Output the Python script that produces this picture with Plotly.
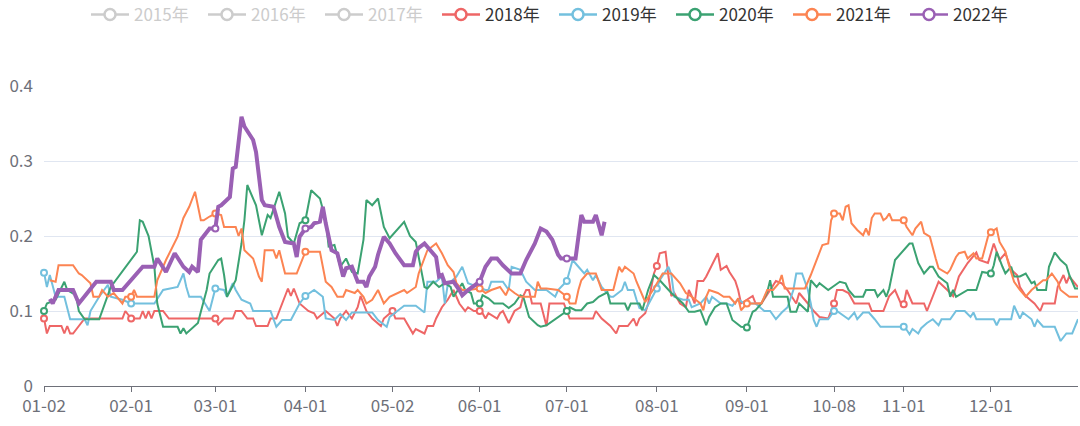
import datetime
import plotly.graph_objects as go

# ---- categories (MM-DD, union of trading days) ----
_d = datetime.date(2020, 1, 2)
categories = []
while _d <= datetime.date(2020, 12, 31):
    s = _d.strftime("%m-%d")
    if s != "05-01" and not ("10-01" <= s <= "10-07"):
        categories.append(s)
    _d += datetime.timedelta(days=1)

tick_labels = ["01-02", "02-01", "03-01", "04-01", "05-02", "06-01",
               "07-01", "08-01", "09-01", "10-08", "11-01", "12-01"]

years = ["2015年", "2016年", "2017年", "2018年", "2019年", "2020年", "2021年", "2022年"]

series_2018 = [
    ("01-02", 0.09), ("01-03", 0.07), ("01-04", 0.08), ("01-08", 0.08), ("01-09", 0.07), ("01-10", 0.08),
    ("01-11", 0.07), ("01-12", 0.07), ("01-14", 0.08), ("01-15", 0.085), ("01-16", 0.09), ("01-29", 0.09),
    ("01-30", 0.1), ("02-01", 0.09), ("02-04", 0.09), ("02-05", 0.1), ("02-06", 0.09), ("02-07", 0.1),
    ("02-08", 0.09), ("02-09", 0.1), ("02-12", 0.1), ("02-14", 0.09), ("02-28", 0.09), ("03-01", 0.09),
    ("03-02", 0.082), ("03-04", 0.09), ("03-07", 0.09), ("03-08", 0.1), ("03-10", 0.1), ("03-12", 0.09),
    ("03-14", 0.09), ("03-15", 0.08), ("03-19", 0.08), ("03-20", 0.09), ("03-22", 0.09), ("03-26", 0.13),
    ("03-27", 0.12), ("03-28", 0.13), ("03-30", 0.11), ("04-02", 0.1), ("04-04", 0.097), ("04-05", 0.09),
    ("04-08", 0.1), ("04-11", 0.09), ("04-12", 0.08), ("04-13", 0.09), ("04-15", 0.1), ("04-17", 0.09),
    ("04-19", 0.105), ("04-20", 0.12), ("04-22", 0.1), ("04-24", 0.09), ("04-27", 0.08), ("04-28", 0.09),
    ("05-02", 0.1), ("05-03", 0.09), ("05-06", 0.09), ("05-09", 0.07), ("05-10", 0.076), ("05-13", 0.07),
    ("05-14", 0.08), ("05-16", 0.08), ("05-17", 0.09), ("05-19", 0.105), ("05-21", 0.115), ("05-23", 0.128),
    ("05-25", 0.11), ("05-27", 0.1), ("05-28", 0.105), ("05-30", 0.1), ("06-01", 0.1), ("06-02", 0.097),
    ("06-03", 0.09), ("06-04", 0.097), ("06-07", 0.09), ("06-08", 0.097), ("06-09", 0.1), ("06-10", 0.092),
    ("06-11", 0.084), ("06-12", 0.092), ("06-13", 0.1), ("06-15", 0.105), ("06-16", 0.12), ("06-17", 0.128),
    ("06-18", 0.128), ("06-19", 0.11), ("06-22", 0.11), ("06-24", 0.08), ("06-25", 0.11), ("06-30", 0.11),
    ("07-02", 0.09), ("07-10", 0.09), ("07-11", 0.1), ("07-13", 0.09), ("07-16", 0.08), ("07-18", 0.07),
    ("07-19", 0.08), ("07-22", 0.08), ("07-24", 0.09), ("07-25", 0.08), ("07-26", 0.09), ("07-28", 0.097),
    ("07-29", 0.11), ("07-31", 0.15), ("08-01", 0.16), ("08-02", 0.177), ("08-04", 0.179), ("08-05", 0.146),
    ("08-06", 0.12), ("08-07", 0.124), ("08-09", 0.11), ("08-11", 0.105), ("08-12", 0.128), ("08-13", 0.12),
    ("08-14", 0.11), ("08-15", 0.14), ("08-17", 0.14), ("08-18", 0.146), ("08-22", 0.177), ("08-23", 0.155),
    ("08-25", 0.16), ("08-26", 0.152), ("08-28", 0.14), ("08-29", 0.128), ("08-30", 0.11), ("09-03", 0.12),
    ("09-04", 0.11), ("09-06", 0.11), ("09-09", 0.128), ("09-11", 0.14), ("09-13", 0.137), ("09-15", 0.128),
    ("09-18", 0.11), ("09-19", 0.124), ("09-22", 0.11), ("09-24", 0.1), ("09-26", 0.092), ("09-29", 0.09),
    ("09-30", 0.1), ("10-08", 0.11), ("10-09", 0.128), ("10-11", 0.128), ("10-13", 0.124), ("10-15", 0.11),
    ("10-20", 0.11), ("10-21", 0.1), ("10-25", 0.1), ("10-27", 0.12), ("10-29", 0.128), ("10-31", 0.11),
    ("11-01", 0.109), ("11-02", 0.128), ("11-04", 0.11), ("11-08", 0.11), ("11-09", 0.1), ("11-11", 0.12),
    ("11-13", 0.139), ("11-16", 0.128), ("11-18", 0.12), ("11-20", 0.146), ("11-23", 0.164), ("11-26", 0.178),
    ("11-27", 0.168), ("11-30", 0.164), ("12-02", 0.19), ("12-04", 0.168), ("12-06", 0.177), ("12-08", 0.155),
    ("12-10", 0.148), ("12-11", 0.132), ("12-13", 0.12), ("12-16", 0.11), ("12-18", 0.1), ("12-19", 0.11),
    ("12-23", 0.11), ("12-24", 0.132), ("12-26", 0.148), ("12-27", 0.137), ("12-28", 0.146), ("12-31", 0.132),
]

series_2019 = [
    ("01-02", 0.151), ("01-03", 0.132), ("01-04", 0.148), ("01-06", 0.119), ("01-09", 0.119), ("01-11", 0.089),
    ("01-16", 0.089), ("01-17", 0.081), ("01-18", 0.1), ("01-21", 0.119), ("01-24", 0.135), ("01-25", 0.119),
    ("01-29", 0.115), ("02-01", 0.11), ("02-09", 0.11), ("02-12", 0.128), ("02-17", 0.132), ("02-19", 0.15),
    ("02-20", 0.132), ("02-21", 0.119), ("02-25", 0.119), ("02-28", 0.1), ("03-01", 0.13), ("03-04", 0.128),
    ("03-05", 0.119), ("03-07", 0.137), ("03-08", 0.128), ("03-10", 0.115), ("03-13", 0.11), ("03-14", 0.1),
    ("03-20", 0.1), ("03-22", 0.079), ("03-24", 0.088), ("03-27", 0.088), ("03-30", 0.11), ("04-01", 0.12),
    ("04-04", 0.128), ("04-07", 0.119), ("04-08", 0.09), ("04-11", 0.088), ("04-13", 0.096), ("04-15", 0.088),
    ("04-17", 0.098), ("04-24", 0.098), ("04-26", 0.088), ("04-29", 0.079), ("04-30", 0.092), ("05-03", 0.098),
    ("05-06", 0.107), ("05-10", 0.107), ("05-13", 0.098), ("05-14", 0.139), ("05-17", 0.139), ("05-19", 0.146),
    ("05-20", 0.11), ("05-21", 0.135), ("05-24", 0.146), ("05-26", 0.159), ("05-28", 0.137), ("06-03", 0.128),
    ("06-04", 0.128), ("06-05", 0.139), ("06-09", 0.139), ("06-11", 0.128), ("06-12", 0.159), ("06-15", 0.155),
    ("06-17", 0.139), ("06-20", 0.128), ("06-24", 0.128), ("06-27", 0.119), ("06-28", 0.128), ("07-01", 0.14),
    ("07-02", 0.155), ("07-03", 0.168), ("07-05", 0.159), ("07-07", 0.15), ("07-08", 0.155), ("07-10", 0.141),
    ("07-11", 0.148), ("07-13", 0.132), ("07-16", 0.119), ("07-17", 0.119), ("07-20", 0.128), ("07-21", 0.139),
    ("07-22", 0.128), ("07-24", 0.128), ("07-25", 0.115), ("07-26", 0.104), ("07-28", 0.101), ("08-01", 0.13),
    ("08-02", 0.141), ("08-05", 0.159), ("08-06", 0.148), ("08-07", 0.119), ("08-10", 0.115), ("08-12", 0.115),
    ("08-13", 0.105), ("08-16", 0.11), ("08-18", 0.119), ("08-19", 0.11), ("08-20", 0.119), ("08-23", 0.11),
    ("08-25", 0.11), ("08-27", 0.107), ("08-29", 0.116), ("08-31", 0.11), ("09-04", 0.11), ("09-07", 0.1),
    ("09-09", 0.1), ("09-11", 0.089), ("09-13", 0.098), ("09-15", 0.105), ("09-17", 0.128), ("09-18", 0.15),
    ("09-20", 0.15), ("09-22", 0.128), ("09-23", 0.11), ("09-24", 0.088), ("09-25", 0.079), ("09-26", 0.089),
    ("09-29", 0.089), ("10-08", 0.1), ("10-09", 0.1), ("10-11", 0.095), ("10-13", 0.089), ("10-15", 0.098),
    ("10-16", 0.089), ("10-18", 0.098), ("10-20", 0.098), ("10-22", 0.089), ("10-24", 0.079), ("10-31", 0.079),
    ("11-01", 0.079), ("11-02", 0.075), ("11-03", 0.069), ("11-04", 0.076), ("11-06", 0.07), ("11-07", 0.077),
    ("11-09", 0.084), ("11-11", 0.089), ("11-13", 0.081), ("11-14", 0.089), ("11-17", 0.089), ("11-19", 0.1),
    ("11-22", 0.1), ("11-24", 0.092), ("11-25", 0.098), ("11-26", 0.089), ("12-02", 0.089), ("12-03", 0.081),
    ("12-04", 0.089), ("12-08", 0.089), ("12-09", 0.107), ("12-11", 0.09), ("12-12", 0.098), ("12-15", 0.089),
    ("12-16", 0.079), ("12-17", 0.088), ("12-19", 0.079), ("12-23", 0.079), ("12-25", 0.06), ("12-27", 0.07),
    ("12-29", 0.07), ("12-31", 0.089),
]

series_2020 = [
    ("01-02", 0.1), ("01-03", 0.11), ("01-06", 0.115), ("01-09", 0.139), ("01-10", 0.128), ("01-13", 0.121),
    ("01-14", 0.1), ("01-16", 0.089), ("01-21", 0.089), ("01-25", 0.132), ("02-03", 0.179), ("02-04", 0.221),
    ("02-05", 0.219), ("02-07", 0.2), ("02-09", 0.159), ("02-10", 0.11), ("02-12", 0.079), ("02-17", 0.079),
    ("02-18", 0.07), ("02-19", 0.077), ("02-20", 0.07), ("02-22", 0.077), ("02-24", 0.084), ("02-25", 0.099),
    ("02-27", 0.128), ("02-28", 0.15), ("03-02", 0.168), ("03-03", 0.17), ("03-04", 0.148), ("03-05", 0.119),
    ("03-08", 0.141), ("03-10", 0.19), ("03-11", 0.221), ("03-12", 0.268), ("03-15", 0.241), ("03-17", 0.201),
    ("03-19", 0.228), ("03-20", 0.224), ("03-23", 0.259), ("03-25", 0.23), ("03-26", 0.199), ("03-28", 0.19),
    ("03-30", 0.217), ("04-01", 0.221), ("04-03", 0.261), ("04-06", 0.25), ("04-08", 0.221), ("04-09", 0.186),
    ("04-11", 0.188), ("04-13", 0.159), ("04-15", 0.17), ("04-17", 0.152), ("04-19", 0.15), ("04-21", 0.195),
    ("04-22", 0.248), ("04-24", 0.241), ("04-26", 0.25), ("04-28", 0.212), ("04-30", 0.197), ("05-06", 0.219),
    ("05-08", 0.2), ("05-10", 0.192), ("05-11", 0.172), ("05-13", 0.132), ("05-14", 0.13), ("05-16", 0.139),
    ("05-18", 0.132), ("05-20", 0.137), ("05-22", 0.132), ("05-23", 0.119), ("05-26", 0.137), ("05-27", 0.128),
    ("05-29", 0.124), ("05-30", 0.11), ("06-01", 0.11), ("06-02", 0.121), ("06-04", 0.117), ("06-06", 0.11),
    ("06-09", 0.11), ("06-11", 0.104), ("06-13", 0.11), ("06-15", 0.121), ("06-16", 0.119), ("06-18", 0.092),
    ("06-21", 0.081), ("06-22", 0.079), ("06-24", 0.081), ("07-01", 0.1), ("07-02", 0.105), ("07-04", 0.101),
    ("07-06", 0.101), ("07-08", 0.11), ("07-10", 0.112), ("07-12", 0.119), ("07-15", 0.125), ("07-16", 0.11),
    ("07-19", 0.11), ("07-21", 0.11), ("07-22", 0.101), ("07-23", 0.11), ("07-26", 0.11), ("07-27", 0.101),
    ("07-29", 0.128), ("07-31", 0.148), ("08-02", 0.141), ("08-06", 0.124), ("08-10", 0.11), ("08-12", 0.099),
    ("08-14", 0.099), ("08-16", 0.101), ("08-18", 0.081), ("08-19", 0.092), ("08-21", 0.105), ("08-23", 0.11),
    ("08-25", 0.11), ("08-27", 0.088), ("08-30", 0.079), ("09-01", 0.078), ("09-03", 0.099), ("09-04", 0.101),
    ("09-06", 0.11), ("09-08", 0.125), ("09-09", 0.141), ("09-10", 0.119), ("09-15", 0.119), ("09-16", 0.099),
    ("09-18", 0.099), ("09-19", 0.11), ("09-22", 0.099), ("09-23", 0.141), ("09-25", 0.132), ("09-26", 0.137),
    ("09-29", 0.128), ("10-09", 0.137), ("10-10", 0.139), ("10-12", 0.137), ("10-13", 0.128), ("10-15", 0.119),
    ("10-18", 0.119), ("10-19", 0.128), ("10-22", 0.128), ("10-23", 0.119), ("10-25", 0.128), ("10-26", 0.119),
    ("10-27", 0.13), ("10-29", 0.168), ("10-31", 0.177), ("11-03", 0.19), ("11-04", 0.19), ("11-06", 0.164),
    ("11-08", 0.15), ("11-10", 0.159), ("11-11", 0.159), ("11-13", 0.146), ("11-16", 0.137), ("11-17", 0.119),
    ("11-18", 0.128), ("11-19", 0.119), ("11-23", 0.128), ("11-26", 0.128), ("11-28", 0.152), ("12-01", 0.15),
    ("12-02", 0.161), ("12-03", 0.179), ("12-05", 0.159), ("12-06", 0.15), ("12-08", 0.159), ("12-09", 0.146),
    ("12-11", 0.146), ("12-13", 0.15), ("12-15", 0.137), ("12-16", 0.139), ("12-17", 0.128), ("12-20", 0.128),
    ("12-21", 0.159), ("12-23", 0.178), ("12-25", 0.168), ("12-27", 0.161), ("12-28", 0.148), ("12-30", 0.13),
    ("12-31", 0.13),
]

series_2021 = [
    ("01-04", 0.141), ("01-06", 0.139), ("01-07", 0.161), ("01-12", 0.161), ("01-14", 0.15), ("01-15", 0.148),
    ("01-18", 0.137), ("01-19", 0.119), ("01-21", 0.119), ("01-22", 0.128), ("01-24", 0.119), ("01-26", 0.124),
    ("01-29", 0.11), ("01-30", 0.119), ("02-01", 0.119), ("02-02", 0.128), ("02-03", 0.119), ("02-09", 0.119),
    ("02-10", 0.141), ("02-13", 0.168), ("02-17", 0.199), ("02-19", 0.224), ("02-21", 0.239), ("02-23", 0.259),
    ("02-25", 0.221), ("02-26", 0.221), ("02-28", 0.226), ("03-01", 0.23), ("03-03", 0.228), ("03-04", 0.212),
    ("03-08", 0.212), ("03-09", 0.2), ("03-10", 0.21), ("03-11", 0.181), ("03-14", 0.17), ("03-16", 0.146),
    ("03-17", 0.139), ("03-18", 0.181), ("03-21", 0.181), ("03-22", 0.17), ("03-23", 0.181), ("03-25", 0.15),
    ("03-29", 0.15), ("04-01", 0.179), ("04-06", 0.179), ("04-08", 0.139), ("04-10", 0.132), ("04-12", 0.119),
    ("04-14", 0.119), ("04-15", 0.128), ("04-18", 0.124), ("04-19", 0.128), ("04-21", 0.119), ("04-22", 0.11),
    ("04-24", 0.115), ("04-26", 0.128), ("04-28", 0.11), ("04-30", 0.119), ("05-06", 0.128), ("05-07", 0.124),
    ("05-10", 0.132), ("05-11", 0.15), ("05-14", 0.181), ("05-17", 0.19), ("05-19", 0.177), ("05-21", 0.161),
    ("05-23", 0.152), ("05-24", 0.137), ("05-26", 0.128), ("05-28", 0.128), ("06-01", 0.13), ("06-03", 0.124),
    ("06-05", 0.128), ("06-08", 0.132), ("06-10", 0.121), ("06-11", 0.13), ("06-13", 0.124), ("06-15", 0.119),
    ("06-20", 0.119), ("06-21", 0.139), ("06-22", 0.13), ("06-24", 0.13), ("06-28", 0.128), ("07-01", 0.119),
    ("07-02", 0.11), ("07-04", 0.11), ("07-05", 0.128), ("07-06", 0.141), ("07-08", 0.15), ("07-11", 0.15),
    ("07-13", 0.128), ("07-17", 0.128), ("07-19", 0.159), ("07-20", 0.152), ("07-21", 0.159), ("07-24", 0.15),
    ("07-25", 0.139), ("07-28", 0.112), ("07-31", 0.13), ("08-03", 0.15), ("08-06", 0.15), ("08-09", 0.137),
    ("08-11", 0.124), ("08-13", 0.119), ("08-16", 0.11), ("08-17", 0.101), ("08-18", 0.119), ("08-19", 0.128),
    ("08-22", 0.124), ("08-24", 0.119), ("08-26", 0.119), ("08-28", 0.11), ("08-29", 0.117), ("08-30", 0.101),
    ("09-01", 0.11), ("09-04", 0.11), ("09-06", 0.11), ("09-08", 0.128), ("09-10", 0.128), ("09-12", 0.137),
    ("09-13", 0.148), ("09-14", 0.13), ("09-21", 0.13), ("09-23", 0.148), ("09-25", 0.168), ("09-27", 0.188),
    ("09-29", 0.19), ("09-30", 0.221), ("10-08", 0.23), ("10-10", 0.23), ("10-11", 0.221), ("10-12", 0.239),
    ("10-13", 0.241), ("10-14", 0.217), ("10-16", 0.208), ("10-18", 0.201), ("10-19", 0.21), ("10-20", 0.201),
    ("10-21", 0.224), ("10-22", 0.23), ("10-24", 0.23), ("10-25", 0.221), ("10-26", 0.224), ("10-27", 0.23),
    ("10-28", 0.221), ("11-01", 0.221), ("11-02", 0.212), ("11-04", 0.201), ("11-05", 0.21), ("11-07", 0.219),
    ("11-08", 0.204), ("11-10", 0.199), ("11-12", 0.17), ("11-13", 0.157), ("11-16", 0.15), ("11-17", 0.155),
    ("11-19", 0.172), ("11-20", 0.177), ("11-22", 0.179), ("11-23", 0.17), ("11-25", 0.177), ("11-26", 0.17),
    ("11-28", 0.17), ("11-30", 0.199), ("12-01", 0.205), ("12-03", 0.21), ("12-04", 0.192), ("12-06", 0.179),
    ("12-07", 0.164), ("12-09", 0.139), ("12-11", 0.128), ("12-13", 0.119), ("12-15", 0.128), ("12-17", 0.135),
    ("12-19", 0.141), ("12-20", 0.141), ("12-22", 0.15), ("12-24", 0.139), ("12-25", 0.128), ("12-28", 0.119),
    ("12-31", 0.119),
]

series_2022 = [
    ("01-04", 0.116), ("01-05", 0.11), ("01-07", 0.128), ("01-12", 0.128), ("01-14", 0.11), ("01-17", 0.124),
    ("01-20", 0.139), ("01-25", 0.139), ("01-26", 0.128), ("01-29", 0.128), ("02-05", 0.159), ("02-09", 0.159),
    ("02-10", 0.17), ("02-13", 0.152), ("02-16", 0.177), ("02-19", 0.159), ("02-21", 0.152), ("02-22", 0.159),
    ("02-24", 0.152), ("02-25", 0.195), ("02-28", 0.21), ("03-01", 0.21), ("03-02", 0.239), ("03-03", 0.241),
    ("03-06", 0.252), ("03-07", 0.29), ("03-08", 0.292), ("03-10", 0.359), ("03-11", 0.346), ("03-14", 0.328),
    ("03-15", 0.312), ("03-17", 0.248), ("03-18", 0.241), ("03-21", 0.239), ("03-23", 0.212), ("03-25", 0.192),
    ("03-28", 0.19), ("03-29", 0.172), ("03-30", 0.199), ("04-01", 0.21), ("04-03", 0.212), ("04-04", 0.217),
    ("04-06", 0.219), ("04-07", 0.239), ("04-08", 0.217), ("04-10", 0.181), ("04-12", 0.177), ("04-14", 0.146),
    ("04-15", 0.157), ("04-17", 0.159), ("04-19", 0.139), ("04-21", 0.139), ("04-22", 0.132), ("04-23", 0.146),
    ("04-25", 0.159), ("04-26", 0.175), ("04-28", 0.199), ("04-30", 0.19), ("05-03", 0.177), ("05-06", 0.161),
    ("05-09", 0.161), ("05-10", 0.179), ("05-11", 0.184), ("05-13", 0.19), ("05-15", 0.181), ("05-17", 0.172),
    ("05-18", 0.146), ("05-19", 0.148), ("05-20", 0.137), ("05-22", 0.139), ("05-23", 0.139), ("05-25", 0.128),
    ("05-26", 0.121), ("05-28", 0.128), ("06-01", 0.139), ("06-03", 0.159), ("06-05", 0.17), ("06-07", 0.17),
    ("06-09", 0.161), ("06-12", 0.15), ("06-15", 0.15), ("06-17", 0.168), ("06-20", 0.19), ("06-22", 0.21),
    ("06-24", 0.206), ("06-26", 0.195), ("06-28", 0.175), ("06-29", 0.17), ("07-01", 0.17), ("07-04", 0.17),
    ("07-06", 0.228), ("07-07", 0.219), ("07-10", 0.219), ("07-11", 0.228), ("07-13", 0.201), ("07-14", 0.219),
]

colors = {"2015年": "#cccccc", "2016年": "#cccccc", "2017年": "#cccccc",
          "2018年": "#ee6666", "2019年": "#73c0de", "2020年": "#3ba272",
          "2021年": "#fc8452", "2022年": "#9a60b4"}
line_widths = {"2018年": 2, "2019年": 2, "2020年": 2, "2021年": 2, "2022年": 4}
data = {"2018年": series_2018, "2019年": series_2019, "2020年": series_2020,
        "2021年": series_2021, "2022年": series_2022}
hidden = ["2015年", "2016年", "2017年"]

FONT = "Noto Sans CJK SC, Microsoft YaHei, sans-serif"
pos = {c: i for i, c in enumerate(categories)}

fig = go.Figure()

# legend entries
for y in years:
    name = y if y not in hidden else '<span style="color:#cccccc">%s</span>' % y
    fig.add_trace(go.Scatter(
        x=[None], y=[None], mode="lines+markers", name=name,
        line=dict(color=colors[y], width=2.5),
        marker=dict(symbol="circle", size=11, color="white",
                    line=dict(color=colors[y], width=2.5)),
        showlegend=True, hoverinfo="skip"))

for y, pts in data.items():
    pts = sorted(pts, key=lambda p: pos[p[0]])
    xs = [p[0] for p in pts]
    vs = [p[1] for p in pts]
    fig.add_trace(go.Scatter(
        x=xs, y=vs, mode="lines", showlegend=False,
        line=dict(color=colors[y], width=line_widths[y]), hoverinfo="skip"))
    mx = [x for x in xs if x in tick_labels]
    mv = [v for x, v in zip(xs, vs) if x in tick_labels]
    fig.add_trace(go.Scatter(
        x=mx, y=mv, mode="markers", showlegend=False, cliponaxis=False,
        marker=dict(symbol="circle", size=6, color="white",
                    line=dict(color=colors[y], width=2)), hoverinfo="skip"))

fig.update_layout(
    width=1080, height=426,
    margin=dict(l=44, r=2, t=86, b=40, autoexpand=False),
    paper_bgcolor="white", plot_bgcolor="white",
    font=dict(family=FONT, size=17, color="#333333"),
    showlegend=True,
    legend=dict(orientation="h", x=86 / 1080, xanchor="left", xref="container",
                y=1 + 89 / 300, yanchor="top", yref="paper",
                font=dict(family=FONT, size=17, color="#333333"),
                itemwidth=38, entrywidth=64, bgcolor="rgba(0,0,0,0)"),
    xaxis=dict(type="category", categoryorder="array", categoryarray=categories,
               range=[0, len(categories) - 1], tickmode="array",
               tickvals=tick_labels, ticktext=tick_labels,
               ticks="outside", ticklen=5, tickcolor="#6e7079",
               showline=True, linecolor="#6e7079", linewidth=1,
               showgrid=False, zeroline=False,
               tickfont=dict(family=FONT, size=17, color="#6e7079")),
    yaxis=dict(range=[0, 0.4], tickmode="array", tickvals=[0, 0.1, 0.2, 0.3, 0.4],
               ticktext=["0", "0.1", "0.2", "0.3", "0.4"],
               showgrid=True, gridcolor="#e0e6f1", gridwidth=1,
               zeroline=False, showline=False, ticks="",
               ticklabelstandoff=10,
               tickfont=dict(family=FONT, size=17, color="#6e7079")),
    hovermode=False,
)

fig.write_html("out.html")
